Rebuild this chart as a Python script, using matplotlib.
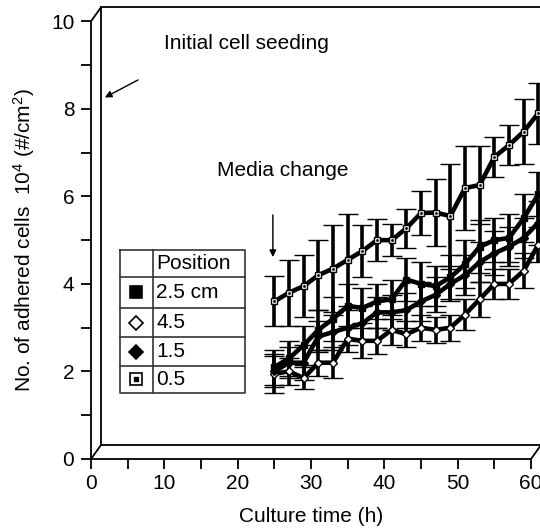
import numpy as np
import matplotlib
matplotlib.use("Agg")
import matplotlib.pyplot as plt
from matplotlib.transforms import offset_copy

plt.rcParams['font.family'] = ['Liberation Sans', 'DejaVu Sans']
plt.rcParams['mathtext.default'] = 'regular'

# culture time points (h)
hours = [25, 27, 29, 31, 33, 35, 37, 39, 41, 43, 45, 47, 49, 51, 53, 55, 57, 59, 61]

# 0.5 cm (top curve)
pos05 = [3.6, 3.8, 3.95, 4.2, 4.35, 4.55, 4.75, 5.0, 5.0, 5.27, 5.62, 5.63, 5.55, 6.19, 6.26, 6.9, 7.17, 7.48, 7.9]
err05 = [0.57, 0.75, 0.7, 0.8, 1.0, 1.05, 0.6, 0.48, 0.37, 0.45, 0.5, 0.77, 1.2, 0.96, 0.9, 0.46, 0.45, 0.75, 0.7]

# 2.5 cm
pos25 = [2.1, 2.3, 2.6, 2.95, 3.2, 3.5, 3.45, 3.6, 3.65, 4.1, 4.0, 3.95, 4.15, 4.45, 4.85, 5.0, 5.05, 5.5, 6.05]
err25 = [0.4, 0.4, 0.45, 0.45, 0.5, 0.5, 0.45, 0.4, 0.45, 0.5, 0.5, 0.45, 0.5, 0.55, 0.6, 0.5, 0.55, 0.55, 0.5]

# 1.5 cm
pos15 = [2.0, 2.2, 2.2, 2.8, 2.9, 3.0, 3.1, 3.35, 3.35, 3.4, 3.6, 3.75, 4.0, 4.2, 4.5, 4.7, 4.85, 5.05, 5.4]
err15 = [0.35, 0.35, 0.4, 0.35, 0.4, 0.4, 0.4, 0.35, 0.4, 0.4, 0.45, 0.4, 0.4, 0.45, 0.45, 0.5, 0.45, 0.45, 0.5]

# 4.5 cm (bottom curve)
pos45 = [1.95, 2.0, 1.85, 2.2, 2.2, 2.75, 2.7, 2.7, 2.95, 2.85, 3.0, 2.95, 3.0, 3.3, 3.65, 4.0, 4.0, 4.3, 4.9]
err45 = [0.45, 0.3, 0.25, 0.3, 0.35, 0.3, 0.4, 0.3, 0.35, 0.3, 0.3, 0.3, 0.3, 0.35, 0.4, 0.35, 0.35, 0.4, 0.4]

legend_labels = ['2.5 cm', '4.5', '1.5', '0.5']

FS = 15

fig = plt.figure(figsize=(5.4, 5.3), dpi=100)
ax = fig.add_axes([91 / 540, 71 / 530, 440 / 540, 437.7 / 530])
ax.set_xlim(0, 60)
ax.set_ylim(0, 10)

ebkw = dict(color='black', lw=3.3, elinewidth=2.6, capsize=7, capthick=2.6, clip_on=False, zorder=3)
for y, e, mk, fc in [(pos45, err45, 'D', 'white'), (pos15, err15, 'D', 'black'),
                     (pos25, err25, 's', 'black'), (pos05, err05, 's', 'white')]:
    _, caps, bars = ax.errorbar(hours, y, yerr=e, marker=mk, ms=4, mfc=fc, mec='black', mew=1, **ebkw)
    for c in caps:
        c.set_clip_on(False)
    for b in bars:
        b.set_clip_on(False)
ax.plot(hours, pos05, ls='none', marker='.', ms=2, color='black', clip_on=False, zorder=4)

# pseudo-3D back frame
back = offset_copy(ax.transData, fig=fig, x=10, y=14, units='dots')
ax.plot([0, 0, 62], [10, 0, 0], color='black', lw=1.3, transform=back, clip_on=False)
ax.plot([0, 62], [10, 10], color='black', lw=1.3, transform=back, clip_on=False)
for xx, yy in [(0, 0), (0, 10), (60, 0)]:
    p0 = ax.transData.transform((xx, yy))
    p1 = back.transform((xx, yy))
    ax.plot([p0[0], p1[0]], [p0[1], p1[1]], color='black', lw=1.3,
            transform=None, clip_on=False)

for s in ['top', 'right']:
    ax.spines[s].set_visible(False)
for s in ['left', 'bottom']:
    ax.spines[s].set_linewidth(1.3)

ax.set_xticks(range(0, 61, 10))
ax.set_xticks(range(5, 60, 10), minor=True)
ax.set_yticks(range(0, 11, 2))
ax.set_yticks(range(1, 10, 2), minor=True)
ax.tick_params(which='both', direction='out', length=7, width=1.3, labelsize=FS)
ax.tick_params(axis='x', pad=4)
ax.tick_params(axis='y', pad=5)

ax.set_xlabel('Culture time (h)', fontsize=FS, labelpad=10)
ax.set_ylabel('No. of adhered cells  10$^4$ (#/cm$^2$)', fontsize=FS, labelpad=10)

# annotations
ax.text(10.0, 9.5, 'Initial cell seeding', fontsize=FS, ha='left', va='center')
ax.annotate('', xy=(1.55, 8.23), xytext=(6.75, 8.69),
            arrowprops=dict(arrowstyle='-|>', color='black', lw=1, mutation_scale=10))
ax.text(26.2, 6.6, 'Media change', fontsize=FS, ha='center', va='center')
ax.annotate('', xy=(24.8, 4.55), xytext=(24.8, 5.64),
            arrowprops=dict(arrowstyle='-|>', color='black', lw=1, mutation_scale=10))

# legend table
x0, x1, x2 = 3.96, 8.4, 21.0
rows = [4.775, 4.158, 3.45, 2.787, 2.125, 1.508]
ax.plot([x0, x2, x2, x0, x0], [rows[0], rows[0], rows[-1], rows[-1], rows[0]], color='#333333', lw=1.2)
ax.plot([x1, x1], [rows[0], rows[-1]], color='#333333', lw=1.2)
for r in rows[1:-1]:
    ax.plot([x0, x2], [r, r], color='#333333', lw=1.2)
ax.text(x1 + 0.5, (rows[0] + rows[1]) / 2, 'Position', fontsize=FS, va='center')
lmark = [('s', 'black', 9), ('D', 'white', 7.5), ('D', 'black', 7.5), ('s', 'white', 8)]
xm = (x0 + x1) / 2
for i, lab in enumerate(legend_labels):
    yc = (rows[i + 1] + rows[i + 2]) / 2
    mk, fc, ms = lmark[i]
    ax.plot([xm], [yc], marker=mk, ms=ms, mfc=fc, mec='black', mew=1.2, ls='none')
    ax.text(x1 + 0.5, yc, lab, fontsize=FS, va='center')
ax.plot([xm], [(rows[4] + rows[5]) / 2], marker='s', ms=2.5, color='black', ls='none')

fig.savefig('out.png', dpi=100)
